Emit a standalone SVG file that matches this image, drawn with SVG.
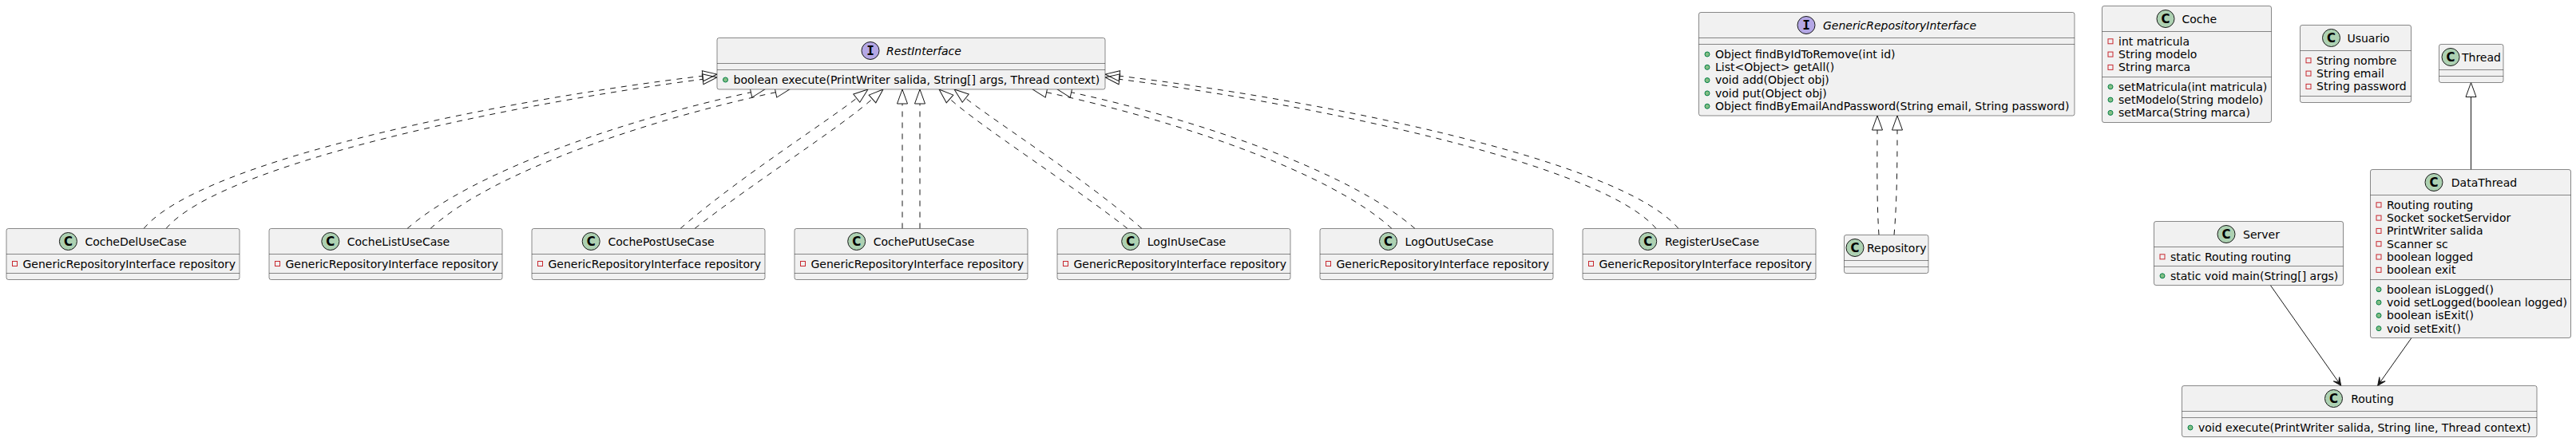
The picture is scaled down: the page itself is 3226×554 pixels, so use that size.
<svg xmlns="http://www.w3.org/2000/svg" width="3226" height="554" viewBox="0 0 3226 554">
<defs>
<style>
.box{fill:#F1F1F1;stroke:#181818;stroke-width:0.5}
.dv{stroke:#181818;stroke-width:0.5;fill:none}
.t{font-family:"DejaVu Sans","Liberation Sans",sans-serif;font-size:14px;fill:#000000}
.n{text-anchor:middle}
.it{font-style:italic}
.ci{fill:#ADD1B2;stroke:#181818;stroke-width:1}
.ii{fill:#B4A7E5;stroke:#181818;stroke-width:1}
.cl{font-family:"DejaVu Sans",sans-serif;font-weight:bold;font-size:15px;text-anchor:middle;fill:#000000}
.il{font-family:"DejaVu Sans Mono",monospace;font-weight:bold;font-size:16px;text-anchor:middle;fill:#000000}
.pv{fill:none;stroke:#C82930;stroke-width:1}
.pb{fill:#84BE84;stroke:#038048;stroke-width:1}
.dash{fill:none;stroke:#181818;stroke-width:1;stroke-dasharray:7,7;marker-end:url(#ext)}
.sol{fill:none;stroke:#181818;stroke-width:1}
</style>
<marker id="ext" markerUnits="userSpaceOnUse" orient="auto" overflow="visible" refX="0" refY="0" markerWidth="20" markerHeight="14">
<path d="M0,-6.5 L18,0 L0,6.5 Z" fill="none" stroke="#181818" stroke-width="1" stroke-dasharray="none"/>
</marker>
<marker id="arr" markerUnits="userSpaceOnUse" orient="auto" overflow="visible" refX="0" refY="0" markerWidth="12" markerHeight="10">
<path d="M0,0 L-10,-4.5 L-5,0 L-10,4.5 Z" fill="#181818" stroke="#181818" stroke-width="1"/>
</marker>
</defs>
<rect width="3226" height="554" fill="#FFFFFF"/>

<g id="connectors">
<!-- CocheDelUseCase -> RestInterface -->
<path class="dash" d="M180,286.5 C252,200 632,125 880.1,95.2"/>
<path class="dash" d="M208,286.5 C277,205 642,130 880.1,99.3"/>
<!-- CocheListUseCase -->
<path class="dash" d="M510,286.5 C592,215 782,150 940.4,115.7"/>
<path class="dash" d="M539,286.5 C617,215 812,150 971.4,115.7"/>
<!-- CochePostUseCase -->
<path class="dash" d="M852,286.5 C922,225 1032,155 1072.8,123.1"/>
<path class="dash" d="M870,286.5 C942,230 1052,160 1092.5,124"/>
<!-- CochePutUseCase -->
<path class="dash" d="M1130,286.5 L1130,130"/>
<path class="dash" d="M1152,286.5 L1152,130"/>
<!-- LogInUseCase -->
<path class="dash" d="M1412,286.5 C1340,230 1230,160 1189.5,124"/>
<path class="dash" d="M1430,286.5 C1360,225 1250,155 1209.2,123.1"/>
<!-- LogOutUseCase -->
<path class="dash" d="M1743,286.5 C1665,215 1470,150 1310.6,115.7"/>
<path class="dash" d="M1772,286.5 C1690,215 1500,150 1341.6,115.7"/>
<!-- RegisterUseCase -->
<path class="dash" d="M2074,286.5 C2005,205 1640,130 1401.9,99.3"/>
<path class="dash" d="M2102,286.5 C2030,200 1650,125 1401.9,95.2"/>
<!-- Repository -> GenericRepositoryInterface -->
<path class="dash" d="M2353,294.5 C2350,250 2351,190 2351,163"/>
<path class="dash" d="M2372,294.5 C2376,250 2376,190 2376,163"/>
<!-- DataThread -> Thread -->
<path class="sol" d="M3094.5,212.5 L3094.5,121.5" marker-end="url(#ext)"/>
<!-- Server -> Routing -->
<path class="sol" d="M2843.3,357.5 L2931.7,483.3" marker-end="url(#arr)"/>
<!-- DataThread -> Routing -->
<path class="sol" d="M3020,423.5 L2977.7,483.3" marker-end="url(#arr)"/>
</g>

<g id="RestInterface">
<rect class="box" x="898" y="47.5" width="486" height="64.5" rx="2.5"/>
<line class="dv" x1="898" y1="79.5" x2="1384" y2="79.5"/>
<line class="dv" x1="898" y1="87.5" x2="1384" y2="87.5"/>
<circle class="ii" cx="1090" cy="63.5" r="11"/>
<text class="il" x="1090" y="69">I</text>
<text class="t n it" x="1157" y="68.5">RestInterface</text>
<circle class="pb" cx="908.5" cy="100" r="3"/>
<text class="t" x="918.5" y="105">boolean execute(PrintWriter salida, String[] args, Thread context)</text>
</g>

<g id="CocheDelUseCase">
<rect class="box" x="8" y="286.5" width="292" height="64" rx="2.5"/>
<line class="dv" x1="8" y1="318.5" x2="300" y2="318.5"/>
<line class="dv" x1="8" y1="342.5" x2="300" y2="342.5"/>
<circle class="ci" cx="85.4" cy="302.5" r="11"/>
<text class="cl" x="85.4" y="308">C</text>
<text class="t n" x="170" y="307.5">CocheDelUseCase</text>
<rect class="pv" x="15.5" y="327.5" width="6" height="6"/>
<text class="t" x="28.5" y="335.5">GenericRepositoryInterface repository</text>
</g>

<g id="CocheListUseCase">
<rect class="box" x="337" y="286.5" width="292" height="64" rx="2.5"/>
<line class="dv" x1="337" y1="318.5" x2="629" y2="318.5"/>
<line class="dv" x1="337" y1="342.5" x2="629" y2="342.5"/>
<circle class="ci" cx="413.8" cy="302.5" r="11"/>
<text class="cl" x="413.8" y="308">C</text>
<text class="t n" x="499" y="307.5">CocheListUseCase</text>
<rect class="pv" x="344.5" y="327.5" width="6" height="6"/>
<text class="t" x="357.5" y="335.5">GenericRepositoryInterface repository</text>
</g>

<g id="CochePostUseCase">
<rect class="box" x="666" y="286.5" width="292" height="64" rx="2.5"/>
<line class="dv" x1="666" y1="318.5" x2="958" y2="318.5"/>
<line class="dv" x1="666" y1="342.5" x2="958" y2="342.5"/>
<circle class="ci" cx="740.2" cy="302.5" r="11"/>
<text class="cl" x="740.2" y="308">C</text>
<text class="t n" x="828" y="307.5">CochePostUseCase</text>
<rect class="pv" x="673.5" y="327.5" width="6" height="6"/>
<text class="t" x="686.5" y="335.5">GenericRepositoryInterface repository</text>
</g>

<g id="CochePutUseCase">
<rect class="box" x="995" y="286.5" width="292" height="64" rx="2.5"/>
<line class="dv" x1="995" y1="318.5" x2="1287" y2="318.5"/>
<line class="dv" x1="995" y1="342.5" x2="1287" y2="342.5"/>
<circle class="ci" cx="1072.7" cy="302.5" r="11"/>
<text class="cl" x="1072.7" y="308">C</text>
<text class="t n" x="1157" y="307.5">CochePutUseCase</text>
<rect class="pv" x="1002.5" y="327.5" width="6" height="6"/>
<text class="t" x="1015.5" y="335.5">GenericRepositoryInterface repository</text>
</g>

<g id="LogInUseCase">
<rect class="box" x="1324" y="286.5" width="292" height="64" rx="2.5"/>
<line class="dv" x1="1324" y1="318.5" x2="1616" y2="318.5"/>
<line class="dv" x1="1324" y1="342.5" x2="1616" y2="342.5"/>
<circle class="ci" cx="1415.7" cy="302.5" r="11"/>
<text class="cl" x="1415.7" y="308">C</text>
<text class="t n" x="1486" y="307.5">LogInUseCase</text>
<rect class="pv" x="1331.5" y="327.5" width="6" height="6"/>
<text class="t" x="1344.5" y="335.5">GenericRepositoryInterface repository</text>
</g>

<g id="LogOutUseCase">
<rect class="box" x="1653" y="286.5" width="292" height="64" rx="2.5"/>
<line class="dv" x1="1653" y1="318.5" x2="1945" y2="318.5"/>
<line class="dv" x1="1653" y1="342.5" x2="1945" y2="342.5"/>
<circle class="ci" cx="1738.5" cy="302.5" r="11"/>
<text class="cl" x="1738.5" y="308">C</text>
<text class="t n" x="1815" y="307.5">LogOutUseCase</text>
<rect class="pv" x="1660.5" y="327.5" width="6" height="6"/>
<text class="t" x="1673.5" y="335.5">GenericRepositoryInterface repository</text>
</g>

<g id="RegisterUseCase">
<rect class="box" x="1982" y="286.5" width="292" height="64" rx="2.5"/>
<line class="dv" x1="1982" y1="318.5" x2="2274" y2="318.5"/>
<line class="dv" x1="1982" y1="342.5" x2="2274" y2="342.5"/>
<circle class="ci" cx="2063.7" cy="302.5" r="11"/>
<text class="cl" x="2063.7" y="308">C</text>
<text class="t n" x="2144" y="307.5">RegisterUseCase</text>
<rect class="pv" x="1989.5" y="327.5" width="6" height="6"/>
<text class="t" x="2002.5" y="335.5">GenericRepositoryInterface repository</text>
</g>

<g id="GenericRepositoryInterface">
<rect class="box" x="2127.5" y="15.5" width="470.5" height="129.5" rx="2.5"/>
<line class="dv" x1="2127.5" y1="47.5" x2="2598" y2="47.5"/>
<line class="dv" x1="2127.5" y1="55.5" x2="2598" y2="55.5"/>
<circle class="ii" cx="2262" cy="31.5" r="11"/>
<text class="il" x="2262" y="37">I</text>
<text class="t n it" x="2379" y="36.5">GenericRepositoryInterface</text>
<circle class="pb" cx="2138" cy="68" r="3"/>
<text class="t" x="2148" y="72.8">Object findByIdToRemove(int id)</text>
<circle class="pb" cx="2138" cy="84.3" r="3"/>
<text class="t" x="2148" y="89.1">List&lt;Object&gt; getAll()</text>
<circle class="pb" cx="2138" cy="100.6" r="3"/>
<text class="t" x="2148" y="105.4">void add(Object obj)</text>
<circle class="pb" cx="2138" cy="116.9" r="3"/>
<text class="t" x="2148" y="121.7">void put(Object obj)</text>
<circle class="pb" cx="2138" cy="133.2" r="3"/>
<text class="t" x="2148" y="138">Object findByEmailAndPassword(String email, String password)</text>
</g>

<g id="Repository">
<rect class="box" x="2309.5" y="294.5" width="105.5" height="48" rx="2.5"/>
<line class="dv" x1="2309.5" y1="326.5" x2="2415" y2="326.5"/>
<line class="dv" x1="2309.5" y1="334.5" x2="2415" y2="334.5"/>
<circle class="ci" cx="2323" cy="310.5" r="11"/>
<text class="cl" x="2323" y="316">C</text>
<text class="t" x="2338" y="315.5">Repository</text>
</g>

<g id="Coche">
<rect class="box" x="2632.5" y="7.5" width="212" height="146" rx="2.5"/>
<line class="dv" x1="2632.5" y1="39.5" x2="2844.5" y2="39.5"/>
<line class="dv" x1="2632.5" y1="96.5" x2="2844.5" y2="96.5"/>
<circle class="ci" cx="2712" cy="23.5" r="11"/>
<text class="cl" x="2712" y="29">C</text>
<text class="t n" x="2754.3" y="28.5">Coche</text>
<rect class="pv" x="2640" y="48.8" width="6" height="6"/>
<text class="t" x="2653" y="56.8">int matricula</text>
<rect class="pv" x="2640" y="65.1" width="6" height="6"/>
<text class="t" x="2653" y="73.1">String modelo</text>
<rect class="pv" x="2640" y="81.4" width="6" height="6"/>
<text class="t" x="2653" y="89.4">String marca</text>
<circle class="pb" cx="2643" cy="108.8" r="3"/>
<text class="t" x="2653" y="113.8">setMatricula(int matricula)</text>
<circle class="pb" cx="2643" cy="125.1" r="3"/>
<text class="t" x="2653" y="130.1">setModelo(String modelo)</text>
<circle class="pb" cx="2643" cy="141.4" r="3"/>
<text class="t" x="2653" y="146.4">setMarca(String marca)</text>
</g>

<g id="Usuario">
<rect class="box" x="2880.5" y="31.5" width="139" height="97" rx="2.5"/>
<line class="dv" x1="2880.5" y1="63.5" x2="3019.5" y2="63.5"/>
<line class="dv" x1="2880.5" y1="120.5" x2="3019.5" y2="120.5"/>
<circle class="ci" cx="2919.5" cy="47.5" r="11"/>
<text class="cl" x="2919.5" y="53">C</text>
<text class="t n" x="2966" y="52.5">Usuario</text>
<rect class="pv" x="2888" y="72.8" width="6" height="6"/>
<text class="t" x="2901" y="80.8">String nombre</text>
<rect class="pv" x="2888" y="89.1" width="6" height="6"/>
<text class="t" x="2901" y="97.1">String email</text>
<rect class="pv" x="2888" y="105.4" width="6" height="6"/>
<text class="t" x="2901" y="113.4">String password</text>
</g>

<g id="Thread">
<rect class="box" x="3054.5" y="55.5" width="80.5" height="48" rx="2.5"/>
<line class="dv" x1="3054.5" y1="87.5" x2="3135" y2="87.5"/>
<line class="dv" x1="3054.5" y1="95.5" x2="3135" y2="95.5"/>
<circle class="ci" cx="3069" cy="71.5" r="11"/>
<text class="cl" x="3069" y="77">C</text>
<text class="t" x="3083" y="76.5">Thread</text>
</g>

<g id="DataThread">
<rect class="box" x="2968.5" y="212.5" width="251" height="211" rx="2.5"/>
<line class="dv" x1="2968.5" y1="244.5" x2="3219.5" y2="244.5"/>
<line class="dv" x1="2968.5" y1="350.5" x2="3219.5" y2="350.5"/>
<circle class="ci" cx="3048" cy="228.5" r="11"/>
<text class="cl" x="3048" y="234">C</text>
<text class="t n" x="3111" y="233.5">DataThread</text>
<rect class="pv" x="2976" y="253.8" width="6" height="6"/>
<text class="t" x="2989" y="261.8">Routing routing</text>
<rect class="pv" x="2976" y="270.1" width="6" height="6"/>
<text class="t" x="2989" y="278.1">Socket socketServidor</text>
<rect class="pv" x="2976" y="286.4" width="6" height="6"/>
<text class="t" x="2989" y="294.4">PrintWriter salida</text>
<rect class="pv" x="2976" y="302.7" width="6" height="6"/>
<text class="t" x="2989" y="310.7">Scanner sc</text>
<rect class="pv" x="2976" y="319" width="6" height="6"/>
<text class="t" x="2989" y="327">boolean logged</text>
<rect class="pv" x="2976" y="335.3" width="6" height="6"/>
<text class="t" x="2989" y="343.3">boolean exit</text>
<circle class="pb" cx="2979" cy="362.8" r="3"/>
<text class="t" x="2989" y="367.8">boolean isLogged()</text>
<circle class="pb" cx="2979" cy="379.1" r="3"/>
<text class="t" x="2989" y="384.1">void setLogged(boolean logged)</text>
<circle class="pb" cx="2979" cy="395.4" r="3"/>
<text class="t" x="2989" y="400.4">boolean isExit()</text>
<circle class="pb" cx="2979" cy="411.7" r="3"/>
<text class="t" x="2989" y="416.7">void setExit()</text>
</g>

<g id="Server">
<rect class="box" x="2697.5" y="277.5" width="237" height="80" rx="2.5"/>
<line class="dv" x1="2697.5" y1="309.5" x2="2934.5" y2="309.5"/>
<line class="dv" x1="2697.5" y1="333.5" x2="2934.5" y2="333.5"/>
<circle class="ci" cx="2788" cy="293.5" r="11"/>
<text class="cl" x="2788" y="299">C</text>
<text class="t n" x="2832" y="298.5">Server</text>
<rect class="pv" x="2705" y="318.8" width="6" height="6"/>
<text class="t" x="2718" y="326.8">static Routing routing</text>
<circle class="pb" cx="2708" cy="345.8" r="3"/>
<text class="t" x="2718" y="350.8">static void main(String[] args)</text>
</g>

<g id="Routing">
<rect class="box" x="2732.5" y="483.5" width="444.5" height="64" rx="2.5"/>
<line class="dv" x1="2732.5" y1="515.5" x2="3177" y2="515.5"/>
<line class="dv" x1="2732.5" y1="523.5" x2="3177" y2="523.5"/>
<circle class="ci" cx="2922.5" cy="499.5" r="11"/>
<text class="cl" x="2922.5" y="505">C</text>
<text class="t n" x="2971" y="504.5">Routing</text>
<circle class="pb" cx="2743" cy="536" r="3"/>
<text class="t" x="2753" y="540.8">void execute(PrintWriter salida, String line, Thread context)</text>
</g>
</svg>
